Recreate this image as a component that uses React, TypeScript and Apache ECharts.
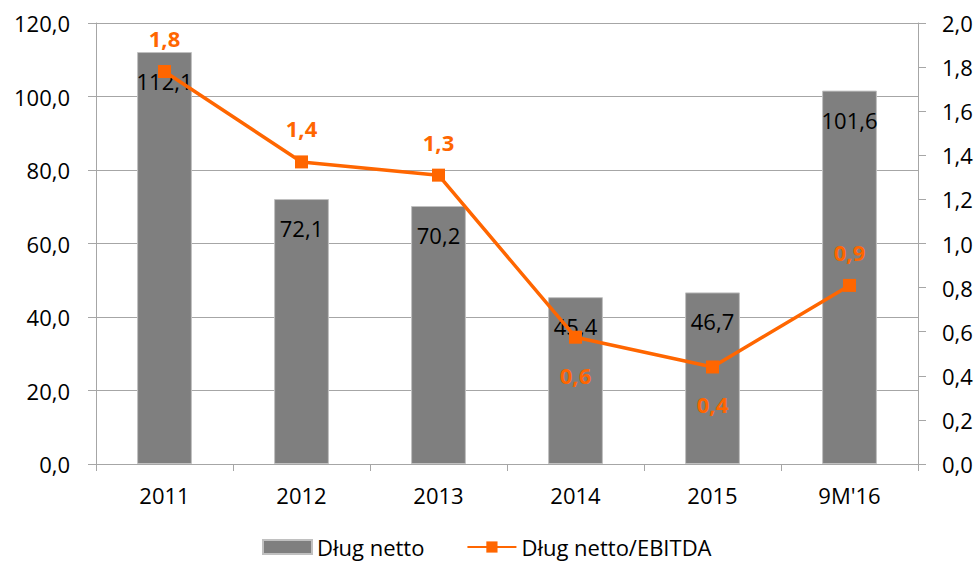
import React, { useEffect, useRef } from "react";
import * as echarts from "echarts";

const categories = ["2011", "2012", "2013", "2014", "2015", "9M'16"];
const debtValues = [112.1, 72.1, 70.2, 45.4, 46.7, 101.6];
const ratioValues = [1.78, 1.37, 1.31, 0.575, 0.44, 0.81];
const ratioLabels = ["1,8", "1,4", "1,3", "0,6", "0,4", "0,9"];
const seriesNames = ["Dług netto", "Dług netto/EBITDA"];

const FONT = "'Open Sans', sans-serif";
const ORANGE = "#FF6600";
const GRID = "#A6A6A6";
const FS = 22;

const fmt = (v: number) => v.toFixed(1).replace(".", ",");

export default function App() {
  const ref = useRef<HTMLDivElement>(null);
  useEffect(() => {
    document.body.style.margin = "0";
    if (!ref.current) return;
    const chart = echarts.init(ref.current, undefined, { renderer: "svg" });
    const labelPos = ["top", "top", "top", "bottom", "bottom", "top"];
    chart.setOption({
      animation: false,
      textStyle: { fontFamily: FONT },
      grid: { left: 96, right: 62, top: 23, bottom: 99, containLabel: false },
      legend: {
        left: 257,
        top: 531,
        itemGap: 42,
        itemWidth: 49,
        itemHeight: 14,
        textStyle: { fontFamily: FONT, fontSize: FS, color: "#000" },
        data: [
          { name: seriesNames[0], icon: "rect" },
          { name: seriesNames[1] },
        ],
      },
      xAxis: {
        type: "category",
        data: categories,
        axisLine: { lineStyle: { color: GRID, width: 1 } },
        axisTick: { show: true, length: 7, lineStyle: { color: GRID } },
        axisLabel: { color: "#000", fontSize: FS, fontFamily: FONT, margin: 20 },
      },
      yAxis: [
        {
          type: "value",
          min: 0,
          max: 120,
          interval: 20,
          axisLine: { show: true, lineStyle: { color: GRID } },
          axisTick: { show: true, length: 8, lineStyle: { color: GRID } },
          splitLine: { show: true, lineStyle: { color: GRID, width: 1 } },
          axisLabel: { color: "#000", fontSize: FS, fontFamily: FONT, margin: 26, formatter: fmt },
        },
        {
          type: "value",
          min: 0,
          max: 2,
          interval: 0.2,
          position: "right",
          axisLine: { show: true, lineStyle: { color: GRID } },
          axisTick: { show: true, length: 8, lineStyle: { color: GRID } },
          splitLine: { show: false },
          axisLabel: { color: "#000", fontSize: FS, fontFamily: FONT, margin: 24, formatter: fmt },
        },
      ],
      series: [
        {
          name: seriesNames[0],
          type: "bar",
          data: debtValues,
          barWidth: "40%",
          itemStyle: { color: "#7F7F7F", borderColor: "#C0C0C0", borderWidth: 1 },
          label: {
            show: true,
            position: "insideTop",
            distance: 18,
            color: "#000",
            fontSize: FS,
            fontFamily: FONT,
            formatter: (p: any) => fmt(p.value),
          },
          z: 2,
        },
        {
          name: seriesNames[1],
          type: "line",
          yAxisIndex: 1,
          data: ratioValues.map((v, i) => ({
            value: v,
            label: { position: labelPos[i], distance: labelPos[i] === "top" ? 16 : 20 },
          })),
          symbol: "rect",
          symbolSize: 13,
          lineStyle: { color: ORANGE, width: 3.5 },
          itemStyle: { color: ORANGE },
          label: {
            show: true,
            color: ORANGE,
            fontSize: FS,
            fontWeight: "bold",
            fontFamily: FONT,
            formatter: (p: any) => ratioLabels[p.dataIndex],
          },
          z: 3,
        },
      ],
    });
    return () => chart.dispose();
  }, []);
  return <div ref={ref} style={{ width: 980, height: 563 }} />;
}
